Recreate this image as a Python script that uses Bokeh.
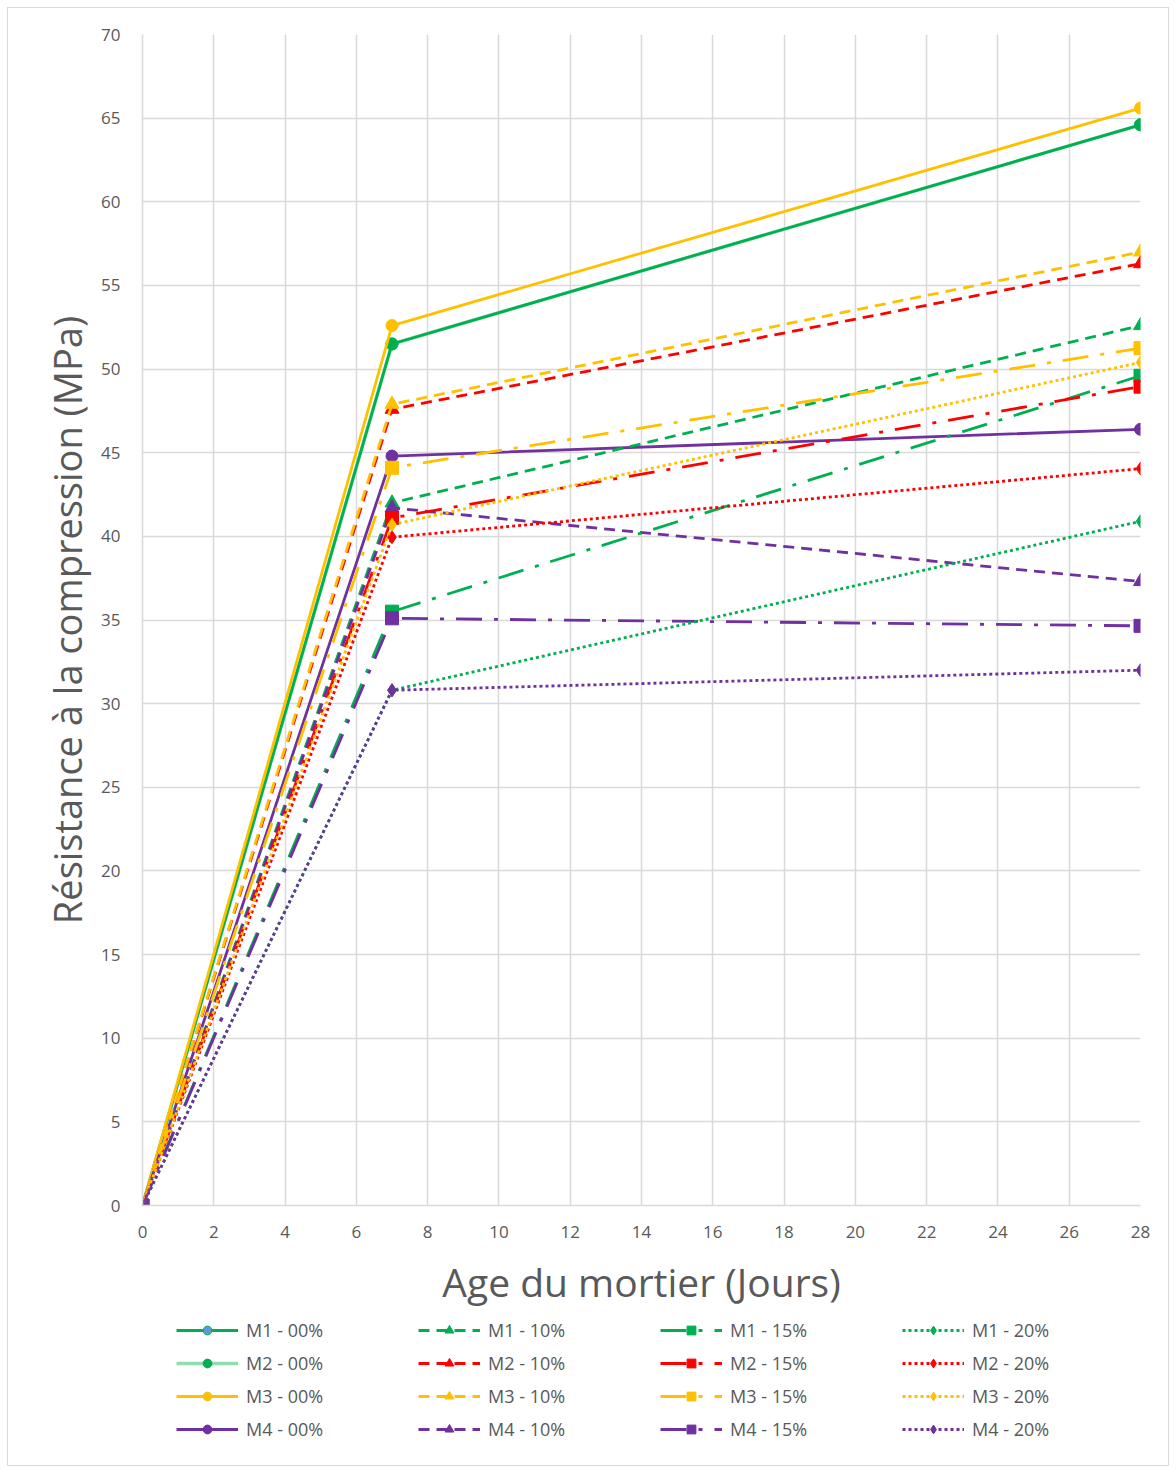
from bokeh.plotting import figure
from bokeh.layouts import column
from bokeh.models import Legend, LegendItem, Range1d, FixedTicker
from bokeh.embed import file_html
from bokeh.resources import INLINE

# ---------------- data ----------------
days = [0, 7, 28]
x_ticks = list(range(0, 29, 2))
y_ticks = list(range(0, 71, 5))

labels = ["M1 - 00%", "M2 - 00%", "M3 - 00%", "M4 - 00%",
          "M1 - 10%", "M2 - 10%", "M3 - 10%", "M4 - 10%",
          "M1 - 15%", "M2 - 15%", "M3 - 15%", "M4 - 15%",
          "M1 - 20%", "M2 - 20%", "M3 - 20%", "M4 - 20%"]

m1_00 = [0, 51.5, 64.6]
m2_00 = [0, 51.5, 64.6]
m3_00 = [0, 52.6, 65.6]
m4_00 = [0, 44.8, 46.4]
m1_10 = [0, 42.0, 52.6]
m2_10 = [0, 47.6, 56.3]
m3_10 = [0, 47.9, 57.0]
m4_10 = [0, 41.7, 37.3]
m1_15 = [0, 35.5, 49.6]
m2_15 = [0, 41.1, 48.95]
m3_15 = [0, 44.1, 51.25]
m4_15 = [0, 35.1, 34.65]
m1_20 = [0, 30.8, 40.9]
m2_20 = [0, 39.95, 44.05]
m3_20 = [0, 40.7, 50.4]
m4_20 = [0, 30.8, 32.0]

values = [m1_00, m2_00, m3_00, m4_00,
          m1_10, m2_10, m3_10, m4_10,
          m1_15, m2_15, m3_15, m4_15,
          m1_20, m2_20, m3_20, m4_20]

# ---------------- styles ----------------
GREEN, RED, YELLOW, PURPLE = "#00B050", "#FF0000", "#FFC000", "#7030A0"
mix_colors = [GREEN, RED, YELLOW, PURPLE]
group_dash = ["solid", "11 7", "26 12 4 12", "3 3"]
group_marker = ["circle", "triangle", "square", "diamond"]
group_size = [12, 14, 13, 13]
TEXT = "#595959"
FONT = "Open Sans"


def draw_series(fig):
    line_r, mark_r = {}, {}
    # pale line of M2-00 first so that M1-00 covers it
    line_r[1] = fig.line(days, values[1], line_color="#8FDDB0", line_width=3.5)
    for idx in range(16):
        g, m = divmod(idx, 4)
        color = GREEN if idx == 1 else mix_colors[m]
        if idx != 1:
            line_r[idx] = fig.line(days, values[idx], line_color=color,
                                   line_width=2.8, line_dash=group_dash[g])
        fill = "#5B9BD5" if idx == 0 else color
        mark_r[idx] = fig.scatter(days, values[idx], marker=group_marker[g],
                                  size=group_size[g], fill_color=fill,
                                  line_color=color, line_width=1)
    return line_r, mark_r


# ---------------- main chart ----------------
p = figure(frame_width=998, frame_height=1171,
           min_border_left=134, min_border_right=28, min_border_top=26,
           min_border_bottom=104,
           x_range=Range1d(0, 28), y_range=Range1d(0, 70),
           output_backend="svg", toolbar_location=None)
p.outline_line_color = None
p.background_fill_color = "white"
p.border_fill_color = "white"

p.xaxis.ticker = FixedTicker(ticks=x_ticks)
p.yaxis.ticker = FixedTicker(ticks=y_ticks)
for ax in (p.xaxis, p.yaxis):
    ax.major_tick_line_color = None
    ax.minor_tick_line_color = None
    ax.major_tick_out = 0
    ax.major_tick_in = 0
    ax.axis_line_color = "#d9d9d9"
    ax.axis_line_width = 1.5
    ax.major_label_text_color = TEXT
    ax.major_label_text_font = FONT
    ax.major_label_text_font_size = "17px"
    ax.axis_label_text_color = TEXT
    ax.axis_label_text_font = FONT
    ax.axis_label_text_font_style = "normal"

p.xaxis.major_label_standoff = 20
p.yaxis.major_label_standoff = 22
p.xaxis.axis_label = "Age du mortier (Jours)"
p.yaxis.axis_label = "Résistance à la compression (MPa)"
p.xaxis.axis_label_text_font_size = "39px"
p.yaxis.axis_label_text_font_size = "38px"
p.xaxis.axis_label_standoff = 14
p.yaxis.axis_label_standoff = 5

p.xgrid.ticker = FixedTicker(ticks=x_ticks)
p.ygrid.ticker = FixedTicker(ticks=y_ticks)
p.grid.grid_line_color = "#d9d9d9"
p.grid.grid_line_width = 1.5

draw_series(p)

# ---------------- legend strip ----------------
leg_fig = figure(width=1160, height=155, x_range=Range1d(100, 101),
                 y_range=Range1d(100, 101), x_axis_type=None, y_axis_type=None,
                 min_border=0, output_backend="svg", toolbar_location=None)
leg_fig.outline_line_color = None
leg_fig.grid.visible = False
leg_fig.background_fill_color = "white"
leg_fig.border_fill_color = "white"
l_line, l_mark = draw_series(leg_fig)

legend_items = [LegendItem(label=labels[i], renderers=[l_line[i], l_mark[i]])
                for i in range(16)]
legend = Legend(items=legend_items, orientation="vertical", nrows=4,
                location=(34, 24), glyph_width=62, glyph_height=22,
                label_height=22, label_standoff=8, label_width=163, spacing=9,
                padding=2, margin=0, border_line_color=None,
                background_fill_alpha=0,
                label_text_font=FONT, label_text_font_size="18px",
                label_text_color=TEXT)
leg_fig.add_layout(legend, "center")

layout = column(p, leg_fig, spacing=0)
layout.styles = {"border": "1px solid #d9d9d9", "margin-left": "7px",
                 "margin-top": "7px"}

open("out.html", "w").write(file_html(layout, INLINE))
